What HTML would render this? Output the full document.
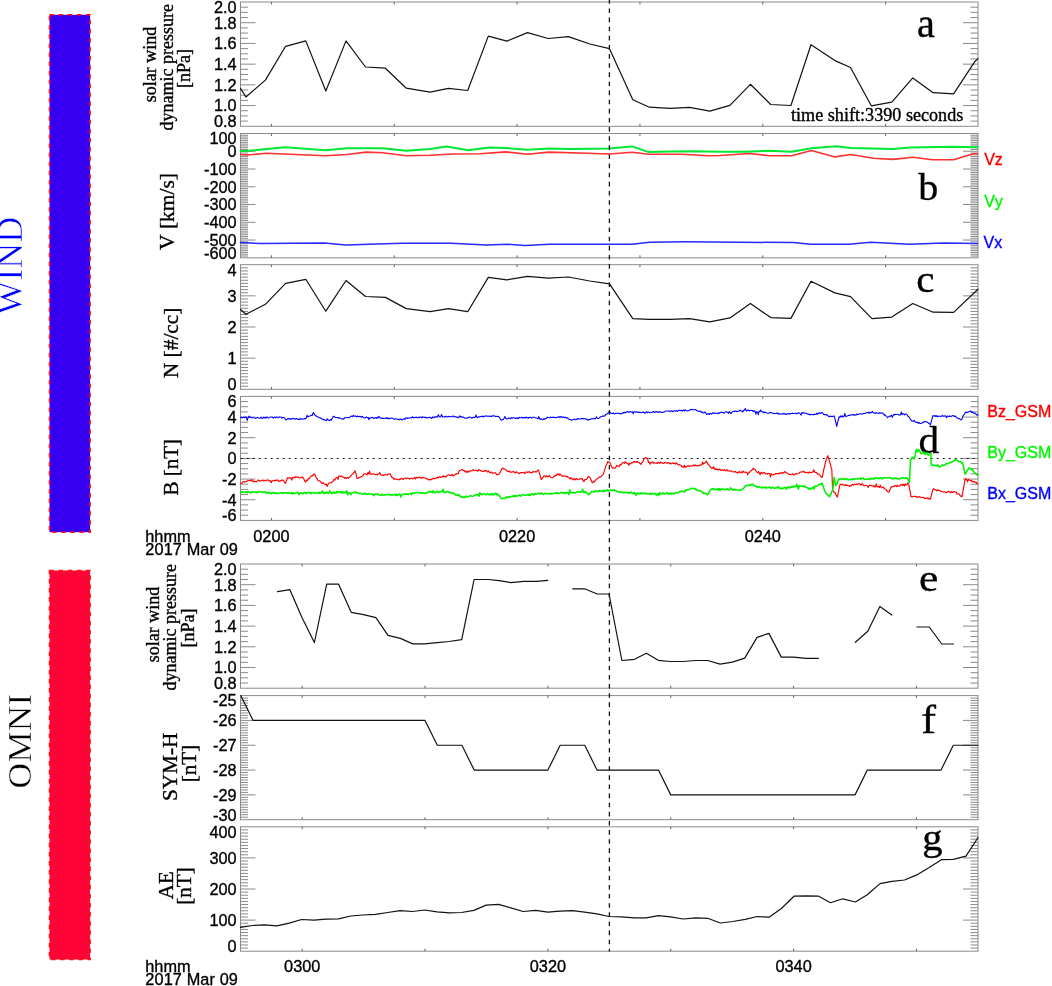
<!DOCTYPE html><html><head><meta charset="utf-8"><style>html,body{margin:0;padding:0;background:#fff;overflow:hidden;}svg{display:block;}text{font-kerning:none;}</style></head><body>
<svg width="1052" height="986" viewBox="0 0 1052 986">
<rect width="1052" height="986" fill="#fff"/>
<rect x="49.5" y="14.8" width="40.6" height="517.4" fill="#3700f0" stroke="#ff1010" stroke-width="1.6" stroke-dasharray="4.5 4.6"/>
<rect x="49.5" y="570.5" width="40.6" height="389" fill="#ff0436" stroke="#ff1010" stroke-width="1.6" stroke-dasharray="4.5 4.6"/>
<text transform="translate(21.9,265.8) rotate(-90)" text-anchor="middle" font-family="'Liberation Serif', 'Times New Roman', serif" font-size="36" fill="#0000ff" stroke="#fff" stroke-width="0.6">WIND</text>
<text transform="translate(31.4,741.1) rotate(-90) scale(1.045,1)" text-anchor="middle" font-family="'Liberation Serif', 'Times New Roman', serif" font-size="34" fill="#000" stroke="#fff" stroke-width="0.45">OMNI</text>
<rect x="240.5" y="2" width="737.5" height="124.3" fill="none" stroke="#8a8a8a" stroke-width="1"/>
<path d="M240.5 121.12h7.5M978 121.12h-7.5M240.5 115.94h7.5M978 115.94h-7.5M240.5 110.76h7.5M978 110.76h-7.5M240.5 105.58h15M978 105.58h-15M240.5 100.4h7.5M978 100.4h-7.5M240.5 95.22h7.5M978 95.22h-7.5M240.5 90.05h7.5M978 90.05h-7.5M240.5 84.87h15M978 84.87h-15M240.5 79.69h7.5M978 79.69h-7.5M240.5 74.51h7.5M978 74.51h-7.5M240.5 69.33h7.5M978 69.33h-7.5M240.5 64.15h15M978 64.15h-15M240.5 58.97h7.5M978 58.97h-7.5M240.5 53.79h7.5M978 53.79h-7.5M240.5 48.61h7.5M978 48.61h-7.5M240.5 43.43h15M978 43.43h-15M240.5 38.25h7.5M978 38.25h-7.5M240.5 33.07h7.5M978 33.07h-7.5M240.5 27.9h7.5M978 27.9h-7.5M240.5 22.72h15M978 22.72h-15M240.5 17.54h7.5M978 17.54h-7.5M240.5 12.36h7.5M978 12.36h-7.5M240.5 7.18h7.5M978 7.18h-7.5" stroke="#8a8a8a" stroke-width="1" fill="none"/>
<path d="M271.4 2v2.5M271.4 126.3v-2.5M394.25 2v2.5M394.25 126.3v-2.5M517.1 2v2.5M517.1 126.3v-2.5M639.95 2v2.5M639.95 126.3v-2.5M762.8 2v2.5M762.8 126.3v-2.5M885.65 2v2.5M885.65 126.3v-2.5" stroke="#666" stroke-width="1" fill="none"/>
<text x="236.6" y="7" text-anchor="end" font-family="'Liberation Sans', Arial, sans-serif" font-size="16.3" dy="0.36em" stroke="#000" stroke-width="0.35">2.0</text>
<text x="236.6" y="22.72" text-anchor="end" font-family="'Liberation Sans', Arial, sans-serif" font-size="16.3" dy="0.36em" stroke="#000" stroke-width="0.35">1.8</text>
<text x="236.6" y="43.43" text-anchor="end" font-family="'Liberation Sans', Arial, sans-serif" font-size="16.3" dy="0.36em" stroke="#000" stroke-width="0.35">1.6</text>
<text x="236.6" y="64.15" text-anchor="end" font-family="'Liberation Sans', Arial, sans-serif" font-size="16.3" dy="0.36em" stroke="#000" stroke-width="0.35">1.4</text>
<text x="236.6" y="84.87" text-anchor="end" font-family="'Liberation Sans', Arial, sans-serif" font-size="16.3" dy="0.36em" stroke="#000" stroke-width="0.35">1.2</text>
<text x="236.6" y="105.58" text-anchor="end" font-family="'Liberation Sans', Arial, sans-serif" font-size="16.3" dy="0.36em" stroke="#000" stroke-width="0.35">1.0</text>
<text x="236.6" y="121.3" text-anchor="end" font-family="'Liberation Sans', Arial, sans-serif" font-size="16.3" dy="0.36em" stroke="#000" stroke-width="0.35">0.8</text>
<polyline points="240.5,88.4 245.9,97 265.4,80.1 285.6,46.3 305.8,40.9 325.8,91 346,40.9 365.5,67 385.4,68.2 406.3,88.2 430.1,92.2 448.4,88.4 467.7,90.5 488.3,36.1 506.9,41.1 527.5,32.6 548.2,38.5 568.4,36.6 589.8,44 609.5,48.7 632.8,99.8 649.4,107.2 670.1,108.4 689.6,107.4 709.8,111.2 729.9,105.3 750.4,84.3 770.7,104.5 790.9,105.5 811,44.7 834.9,60.6 850.5,67.5 871.3,105.8 891.8,102.1 912.8,77.9 933.1,92.7 953.6,93.9 974.6,61.8 978,58.6" fill="none" stroke="#111" stroke-width="1.2" stroke-linejoin="round" stroke-linecap="round"/>
<text transform="translate(916.88,36.6) scale(1.032,1)" font-family="'Liberation Serif', 'Times New Roman', serif" font-size="39" stroke="#000" stroke-width="0.35">a</text>
<text x="791" y="121.1" font-family="'Liberation Serif', 'Times New Roman', serif" font-size="18.15" stroke="#000" stroke-width="0.35">time shift:3390 seconds</text>
<rect x="240.5" y="133.5" width="737.5" height="124.3" fill="none" stroke="#8a8a8a" stroke-width="1"/>
<path d="M240.5 256.02h7.5M978 256.02h-7.5M240.5 254.25h7.5M978 254.25h-7.5M240.5 252.47h7.5M978 252.47h-7.5M240.5 250.7h7.5M978 250.7h-7.5M240.5 248.92h7.5M978 248.92h-7.5M240.5 247.15h7.5M978 247.15h-7.5M240.5 245.37h7.5M978 245.37h-7.5M240.5 243.59h7.5M978 243.59h-7.5M240.5 241.82h7.5M978 241.82h-7.5M240.5 240.04h15M978 240.04h-15M240.5 238.27h7.5M978 238.27h-7.5M240.5 236.49h7.5M978 236.49h-7.5M240.5 234.72h7.5M978 234.72h-7.5M240.5 232.94h7.5M978 232.94h-7.5M240.5 231.16h7.5M978 231.16h-7.5M240.5 229.39h7.5M978 229.39h-7.5M240.5 227.61h7.5M978 227.61h-7.5M240.5 225.84h7.5M978 225.84h-7.5M240.5 224.06h7.5M978 224.06h-7.5M240.5 222.29h15M978 222.29h-15M240.5 220.51h7.5M978 220.51h-7.5M240.5 218.73h7.5M978 218.73h-7.5M240.5 216.96h7.5M978 216.96h-7.5M240.5 215.18h7.5M978 215.18h-7.5M240.5 213.41h7.5M978 213.41h-7.5M240.5 211.63h7.5M978 211.63h-7.5M240.5 209.86h7.5M978 209.86h-7.5M240.5 208.08h7.5M978 208.08h-7.5M240.5 206.3h7.5M978 206.3h-7.5M240.5 204.53h15M978 204.53h-15M240.5 202.75h7.5M978 202.75h-7.5M240.5 200.98h7.5M978 200.98h-7.5M240.5 199.2h7.5M978 199.2h-7.5M240.5 197.43h7.5M978 197.43h-7.5M240.5 195.65h7.5M978 195.65h-7.5M240.5 193.87h7.5M978 193.87h-7.5M240.5 192.1h7.5M978 192.1h-7.5M240.5 190.32h7.5M978 190.32h-7.5M240.5 188.55h7.5M978 188.55h-7.5M240.5 186.77h15M978 186.77h-15M240.5 185h7.5M978 185h-7.5M240.5 183.22h7.5M978 183.22h-7.5M240.5 181.44h7.5M978 181.44h-7.5M240.5 179.67h7.5M978 179.67h-7.5M240.5 177.89h7.5M978 177.89h-7.5M240.5 176.12h7.5M978 176.12h-7.5M240.5 174.34h7.5M978 174.34h-7.5M240.5 172.57h7.5M978 172.57h-7.5M240.5 170.79h7.5M978 170.79h-7.5M240.5 169.01h15M978 169.01h-15M240.5 167.24h7.5M978 167.24h-7.5M240.5 165.46h7.5M978 165.46h-7.5M240.5 163.69h7.5M978 163.69h-7.5M240.5 161.91h7.5M978 161.91h-7.5M240.5 160.14h7.5M978 160.14h-7.5M240.5 158.36h7.5M978 158.36h-7.5M240.5 156.58h7.5M978 156.58h-7.5M240.5 154.81h7.5M978 154.81h-7.5M240.5 153.03h7.5M978 153.03h-7.5M240.5 151.26h15M978 151.26h-15M240.5 149.48h7.5M978 149.48h-7.5M240.5 147.71h7.5M978 147.71h-7.5M240.5 145.93h7.5M978 145.93h-7.5M240.5 144.15h7.5M978 144.15h-7.5M240.5 142.38h7.5M978 142.38h-7.5M240.5 140.6h7.5M978 140.6h-7.5M240.5 138.83h7.5M978 138.83h-7.5M240.5 137.05h7.5M978 137.05h-7.5M240.5 135.28h7.5M978 135.28h-7.5" stroke="#8a8a8a" stroke-width="1" fill="none"/>
<path d="M271.4 133.5v2.5M271.4 257.8v-2.5M394.25 133.5v2.5M394.25 257.8v-2.5M517.1 133.5v2.5M517.1 257.8v-2.5M639.95 133.5v2.5M639.95 257.8v-2.5M762.8 133.5v2.5M762.8 257.8v-2.5M885.65 133.5v2.5M885.65 257.8v-2.5" stroke="#666" stroke-width="1" fill="none"/>
<text x="236.6" y="138.5" text-anchor="end" font-family="'Liberation Sans', Arial, sans-serif" font-size="16.3" dy="0.36em" stroke="#000" stroke-width="0.35">100</text>
<text x="236.6" y="151.26" text-anchor="end" font-family="'Liberation Sans', Arial, sans-serif" font-size="16.3" dy="0.36em" stroke="#000" stroke-width="0.35">0</text>
<text x="236.6" y="169.01" text-anchor="end" font-family="'Liberation Sans', Arial, sans-serif" font-size="16.3" dy="0.36em" stroke="#000" stroke-width="0.35">-100</text>
<text x="236.6" y="186.77" text-anchor="end" font-family="'Liberation Sans', Arial, sans-serif" font-size="16.3" dy="0.36em" stroke="#000" stroke-width="0.35">-200</text>
<text x="236.6" y="204.53" text-anchor="end" font-family="'Liberation Sans', Arial, sans-serif" font-size="16.3" dy="0.36em" stroke="#000" stroke-width="0.35">-300</text>
<text x="236.6" y="222.29" text-anchor="end" font-family="'Liberation Sans', Arial, sans-serif" font-size="16.3" dy="0.36em" stroke="#000" stroke-width="0.35">-400</text>
<text x="236.6" y="240.04" text-anchor="end" font-family="'Liberation Sans', Arial, sans-serif" font-size="16.3" dy="0.36em" stroke="#000" stroke-width="0.35">-500</text>
<text x="236.6" y="252.8" text-anchor="end" font-family="'Liberation Sans', Arial, sans-serif" font-size="16.3" dy="0.36em" stroke="#000" stroke-width="0.35">-600</text>
<polyline points="240.5,150.9 247.1,150.9 285.2,147.3 325.5,150.2 347,148.3 382.6,148.3 406.3,150.7 430,149 446.7,146.6 468.1,150.2 489.5,147.6 506.1,148 527.5,149.7 548.9,148.5 570.3,149 608.3,148.5 632.1,146.4 648.7,152.1 670.1,151.6 693.9,151.2 720,151.7 744.7,151.7 769.4,150.8 791.7,151.7 811.4,148.3 836.2,146.3 851,148 893,149 910.3,147.5 952.3,146.8 977.5,147.3" fill="none" stroke="#00e832" stroke-width="2.0" stroke-linejoin="round" stroke-linecap="round"/>
<polyline points="240.5,154.5 247,155 266.1,153.3 325.5,155.7 347,154.5 366,152.1 382.6,152.8 406.3,155.7 430,155.2 453.9,154 480,153.8 506.1,151.9 527.5,154.2 548.9,152.1 587,153.3 609.5,154 632.1,152.3 648.7,154.2 682,154.2 708.1,155.7 720,155.5 749.7,153.5 769.4,155.7 791.7,155.7 811.4,150.5 834.9,156.9 851,154.5 873.2,158.2 893,159.4 912.8,157.2 932.5,159.7 953.6,159.7 973.3,153.7 977.5,153.7" fill="none" stroke="#ff3030" stroke-width="1.6" stroke-linejoin="round" stroke-linecap="round"/>
<polyline points="240.5,242.6 261,243.6 324.4,242.9 345.5,245 401.8,243.3 451,243.3 486.2,245 507.3,244.3 525,245.4 549.5,244.3 632.2,244.3 649.4,242.2 686,241.8 793.4,242.6 810.6,244.3 849.2,244.3 870.7,242.2 909.4,244.3 943.8,243 977.5,243.5" fill="none" stroke="#2828ff" stroke-width="1.5" stroke-linejoin="round" stroke-linecap="round"/>
<text transform="translate(918.3,200.3) scale(1.046,1)" font-family="'Liberation Serif', 'Times New Roman', serif" font-size="38.3" stroke="#000" stroke-width="0.35">b</text>
<text x="984.2" y="164.8" font-family="'Liberation Sans', Arial, sans-serif" font-size="16" fill="#ff0000" stroke="#ff0000" stroke-width="0.35">Vz</text>
<text x="984.2" y="206.6" font-family="'Liberation Sans', Arial, sans-serif" font-size="16" fill="#00f800" stroke="#00f800" stroke-width="0.35">Vy</text>
<text x="983.5" y="247.6" font-family="'Liberation Sans', Arial, sans-serif" font-size="16" fill="#0000ff" stroke="#0000ff" stroke-width="0.35">Vx</text>
<rect x="240.5" y="264.7" width="737.5" height="124.6" fill="none" stroke="#8a8a8a" stroke-width="1"/>
<path d="M240.5 386.19h7.5M978 386.19h-7.5M240.5 383.07h7.5M978 383.07h-7.5M240.5 379.95h7.5M978 379.95h-7.5M240.5 376.84h7.5M978 376.84h-7.5M240.5 373.73h7.5M978 373.73h-7.5M240.5 370.61h7.5M978 370.61h-7.5M240.5 367.5h7.5M978 367.5h-7.5M240.5 364.38h7.5M978 364.38h-7.5M240.5 361.26h7.5M978 361.26h-7.5M240.5 358.15h15M978 358.15h-15M240.5 355.04h7.5M978 355.04h-7.5M240.5 351.92h7.5M978 351.92h-7.5M240.5 348.81h7.5M978 348.81h-7.5M240.5 345.69h7.5M978 345.69h-7.5M240.5 342.57h7.5M978 342.57h-7.5M240.5 339.46h7.5M978 339.46h-7.5M240.5 336.35h7.5M978 336.35h-7.5M240.5 333.23h7.5M978 333.23h-7.5M240.5 330.12h7.5M978 330.12h-7.5M240.5 327h15M978 327h-15M240.5 323.88h7.5M978 323.88h-7.5M240.5 320.77h7.5M978 320.77h-7.5M240.5 317.65h7.5M978 317.65h-7.5M240.5 314.54h7.5M978 314.54h-7.5M240.5 311.43h7.5M978 311.43h-7.5M240.5 308.31h7.5M978 308.31h-7.5M240.5 305.19h7.5M978 305.19h-7.5M240.5 302.08h7.5M978 302.08h-7.5M240.5 298.96h7.5M978 298.96h-7.5M240.5 295.85h15M978 295.85h-15M240.5 292.74h7.5M978 292.74h-7.5M240.5 289.62h7.5M978 289.62h-7.5M240.5 286.5h7.5M978 286.5h-7.5M240.5 283.39h7.5M978 283.39h-7.5M240.5 280.27h7.5M978 280.27h-7.5M240.5 277.16h7.5M978 277.16h-7.5M240.5 274.04h7.5M978 274.04h-7.5M240.5 270.93h7.5M978 270.93h-7.5M240.5 267.81h7.5M978 267.81h-7.5" stroke="#8a8a8a" stroke-width="1" fill="none"/>
<path d="M271.4 264.7v2.5M271.4 389.3v-2.5M394.25 264.7v2.5M394.25 389.3v-2.5M517.1 264.7v2.5M517.1 389.3v-2.5M639.95 264.7v2.5M639.95 389.3v-2.5M762.8 264.7v2.5M762.8 389.3v-2.5M885.65 264.7v2.5M885.65 389.3v-2.5" stroke="#666" stroke-width="1" fill="none"/>
<text x="236.6" y="269.7" text-anchor="end" font-family="'Liberation Sans', Arial, sans-serif" font-size="16.3" dy="0.36em" stroke="#000" stroke-width="0.35">4</text>
<text x="236.6" y="295.85" text-anchor="end" font-family="'Liberation Sans', Arial, sans-serif" font-size="16.3" dy="0.36em" stroke="#000" stroke-width="0.35">3</text>
<text x="236.6" y="327" text-anchor="end" font-family="'Liberation Sans', Arial, sans-serif" font-size="16.3" dy="0.36em" stroke="#000" stroke-width="0.35">2</text>
<text x="236.6" y="358.15" text-anchor="end" font-family="'Liberation Sans', Arial, sans-serif" font-size="16.3" dy="0.36em" stroke="#000" stroke-width="0.35">1</text>
<text x="236.6" y="384.3" text-anchor="end" font-family="'Liberation Sans', Arial, sans-serif" font-size="16.3" dy="0.36em" stroke="#000" stroke-width="0.35">0</text>
<polyline points="240.5,309.5 245.9,314.3 265.4,304.3 285.6,283.4 305.8,279.3 325.8,311.2 346,280.5 365.5,296.5 385.4,297.4 406.3,308.6 430.1,311.7 448.4,308.6 467.7,311.7 488.3,277.4 506.9,279.8 527.5,276.3 548.2,278.2 568.4,277 589.8,281 609.5,283.9 632.8,318.6 649.4,319.3 670.1,319.3 689.6,318.6 709.8,321.9 729.9,317.9 750.4,303.5 770.7,317.6 790.9,318.4 811,281.3 834.9,292.9 850.5,296.6 872,318.6 891.8,317.1 912.8,303.5 933.1,312.2 953.6,312.4 978,289.2" fill="none" stroke="#111" stroke-width="1.2" stroke-linejoin="round" stroke-linecap="round"/>
<text transform="translate(916.15,291.8) scale(1.074,1)" font-family="'Liberation Serif', 'Times New Roman', serif" font-size="38" stroke="#000" stroke-width="0.35">c</text>
<rect x="240.5" y="396.4" width="737.5" height="124" fill="none" stroke="#8a8a8a" stroke-width="1"/>
<path d="M240.5 515.23h7.5M978 515.23h-7.5M240.5 510.07h7.5M978 510.07h-7.5M240.5 504.9h7.5M978 504.9h-7.5M240.5 499.73h15M978 499.73h-15M240.5 494.57h7.5M978 494.57h-7.5M240.5 489.4h7.5M978 489.4h-7.5M240.5 484.23h7.5M978 484.23h-7.5M240.5 479.07h15M978 479.07h-15M240.5 473.9h7.5M978 473.9h-7.5M240.5 468.73h7.5M978 468.73h-7.5M240.5 463.57h7.5M978 463.57h-7.5M240.5 458.4h15M978 458.4h-15M240.5 453.23h7.5M978 453.23h-7.5M240.5 448.07h7.5M978 448.07h-7.5M240.5 442.9h7.5M978 442.9h-7.5M240.5 437.73h15M978 437.73h-15M240.5 432.57h7.5M978 432.57h-7.5M240.5 427.4h7.5M978 427.4h-7.5M240.5 422.23h7.5M978 422.23h-7.5M240.5 417.07h15M978 417.07h-15M240.5 411.9h7.5M978 411.9h-7.5M240.5 406.73h7.5M978 406.73h-7.5M240.5 401.57h7.5M978 401.57h-7.5" stroke="#8a8a8a" stroke-width="1" fill="none"/>
<path d="M271.4 396.4v2.5M271.4 520.4v-2.5M394.25 396.4v2.5M394.25 520.4v-2.5M517.1 396.4v2.5M517.1 520.4v-2.5M639.95 396.4v2.5M639.95 520.4v-2.5M762.8 396.4v2.5M762.8 520.4v-2.5M885.65 396.4v2.5M885.65 520.4v-2.5" stroke="#666" stroke-width="1" fill="none"/>
<text x="236.6" y="401.4" text-anchor="end" font-family="'Liberation Sans', Arial, sans-serif" font-size="16.3" dy="0.36em" stroke="#000" stroke-width="0.35">6</text>
<text x="236.6" y="417.07" text-anchor="end" font-family="'Liberation Sans', Arial, sans-serif" font-size="16.3" dy="0.36em" stroke="#000" stroke-width="0.35">4</text>
<text x="236.6" y="437.73" text-anchor="end" font-family="'Liberation Sans', Arial, sans-serif" font-size="16.3" dy="0.36em" stroke="#000" stroke-width="0.35">2</text>
<text x="236.6" y="458.4" text-anchor="end" font-family="'Liberation Sans', Arial, sans-serif" font-size="16.3" dy="0.36em" stroke="#000" stroke-width="0.35">0</text>
<text x="236.6" y="479.07" text-anchor="end" font-family="'Liberation Sans', Arial, sans-serif" font-size="16.3" dy="0.36em" stroke="#000" stroke-width="0.35">-2</text>
<text x="236.6" y="499.73" text-anchor="end" font-family="'Liberation Sans', Arial, sans-serif" font-size="16.3" dy="0.36em" stroke="#000" stroke-width="0.35">-4</text>
<text x="236.6" y="515.4" text-anchor="end" font-family="'Liberation Sans', Arial, sans-serif" font-size="16.3" dy="0.36em" stroke="#000" stroke-width="0.35">-6</text>
<line x1="240.7" y1="458.5" x2="978" y2="458.5" stroke="#111" stroke-width="1.2" stroke-dasharray="2 4"/>
<text transform="translate(918.41,452.8) scale(1.077,1)" font-family="'Liberation Serif', 'Times New Roman', serif" font-size="38.2" stroke="#000" stroke-width="0.35">d</text>
<polyline points="240.5,417.4 241.34,417.36 242.18,418.06 243.02,417.5 243.85,417.08 244.69,417.74 245.53,417.02 246.37,417.04 247.21,420.36 248.05,417.89 248.88,416.14 249.72,417.3 250.56,417.11 251.4,417.8 252.21,417.71 253.02,417.81 253.82,417.77 254.63,417.7 255.44,418.45 256.25,418.22 257.05,417.47 257.86,417.42 258.67,418.08 259.48,418.19 260.28,418.33 261.09,416.98 261.9,418.24 262.7,418.33 263.51,417.05 264.32,418.03 265.13,417.05 265.94,418.27 266.74,417.08 267.55,417.04 268.36,418.01 269.17,417.66 269.97,417.14 270.78,417.04 271.59,417.01 272.39,417.14 273.2,418.19 274.01,417.25 274.82,417.1 275.62,418 276.43,416.93 277.24,417.08 278.05,417.85 278.86,417.17 279.66,416.88 280.47,417.08 281.28,417.25 282.08,418.06 282.89,417.51 283.7,417.4 284.65,418.11 285.6,419.7 286.55,419.82 287.5,418.8 288.34,418.48 289.19,419.19 290.03,418.46 290.88,419.45 291.72,418.83 292.57,418.32 293.41,418.63 294.26,418.68 295.1,419.19 295.94,418.62 296.79,418.5 297.63,419.22 298.48,419.32 299.32,419.77 300.17,418.54 301.01,419.17 301.86,418.82 302.7,419.3 303.56,419.06 304.43,418.42 305.29,418.94 306.15,418.19 307.02,415.36 307.88,417.03 308.75,416.23 309.61,415.94 310.47,415.93 311.34,415.25 312.2,415.5 313.35,412.57 314.5,414.4 315.38,415.61 316.25,415.91 317.12,416.79 318,416.9 318.83,417.68 319.67,417.76 320.5,417.87 321.33,418.56 322.17,418.98 323,419.7 323.83,419.39 324.67,420.04 325.5,420.3 326.33,420.75 327.16,418.87 327.99,419.84 328.81,420.18 329.64,420.75 330.47,419.44 331.3,420.1 332.25,418.55 333.2,416.5 334.06,416.25 334.93,417.14 335.79,417.68 336.65,417.57 337.52,417.45 338.38,418.33 339.25,417.8 340.11,417.92 340.97,418.38 341.84,419.08 342.7,418.8 343.65,419.18 344.6,417.84 345.55,417.74 346.5,417.8 347.34,417.51 348.19,417.46 349.03,417.77 349.88,417.07 350.72,416.31 351.57,416.16 352.41,416.73 353.26,415.27 354.1,416.3 354.93,415.93 355.75,416.1 356.58,416.91 357.4,416.02 358.23,416.68 359.06,416.51 359.88,416.33 360.71,416.48 361.53,417.24 362.36,416.3 363.19,417.41 364.01,417.71 364.84,417.84 365.67,417.7 366.49,416.89 367.32,417.89 368.14,417.34 368.97,419.71 369.8,417.75 370.62,417.92 371.45,417.87 372.27,417.33 373.1,417.8 373.93,418.49 374.75,417.89 375.58,417.6 376.4,418.37 377.23,417.3 378.06,417.97 378.88,416.26 379.71,417.29 380.53,418.22 381.36,417.93 382.19,418.55 383.01,418.26 383.84,418.56 384.67,418.31 385.49,417.98 386.32,418.54 387.14,417.63 387.97,418.68 388.8,418.37 389.62,418.67 390.45,417.89 391.27,418.25 392.1,418.2 392.96,418.33 393.83,418.97 394.69,419.27 395.55,418.61 396.42,418.97 397.28,419.29 398.15,419.21 399.01,419.93 399.87,419.1 400.74,419.04 401.6,419.7 402.46,419.93 403.33,419.25 404.19,418.64 405.05,419.46 405.92,417.81 406.78,417.76 407.65,418.55 408.51,418.03 409.37,417.93 410.24,417.78 411.1,417.4 411.93,417.68 412.75,416.73 413.58,417.86 414.4,417.45 415.23,417.45 416.06,417 416.88,417.52 417.71,417.98 418.53,417.19 419.36,417.54 420.19,416.97 421.01,416.97 421.84,417.94 422.67,416.82 423.49,417.31 424.32,417.46 425.14,416.98 425.97,417.82 426.8,417.5 427.62,417.85 428.45,417.69 429.27,417.18 430.1,417.4 430.92,417.82 431.74,418.5 432.57,416.81 433.39,417.68 434.21,417.76 435.03,416.5 435.85,417.01 436.67,416.77 437.5,416.99 438.32,414.8 439.14,416.43 439.96,417.16 440.78,416.35 441.6,414.55 442.43,416.97 443.25,416.82 444.07,416.73 444.89,417.21 445.71,416.15 446.53,416.79 447.36,416.84 448.18,416.9 449,416.3 449.83,416.64 450.65,416.8 451.48,416.81 452.3,416.34 453.13,415.94 453.96,416.89 454.78,416.38 455.61,417.05 456.43,417.11 457.26,417 458.09,417.72 458.91,417.36 459.74,415.71 460.57,416.87 461.39,416.65 462.22,417.17 463.04,417.06 463.87,417.54 464.7,418.19 465.52,418.3 466.35,418.1 467.17,417.87 468,417.8 468.81,417.11 469.61,417.21 470.42,417.16 471.22,417.73 472.03,418.14 472.84,417.49 473.64,417.21 474.45,417.56 475.25,416.98 476.06,415.06 476.87,417.35 477.67,417.37 478.48,416.79 479.28,417.11 480.09,416.68 480.9,416.49 481.7,416.47 482.51,416.13 483.32,417.14 484.12,416.15 484.93,416.23 485.73,415.9 486.54,415.94 487.35,416.22 488.15,416.17 488.96,416.19 489.76,416.44 490.57,416 491.38,416.57 492.18,415.78 492.99,415.99 493.79,415.69 494.6,415.9 495.55,416.49 496.5,416.25 497.45,416.48 498.4,416.3 499.55,417.69 500.7,419.7 501.53,420.2 502.35,419.64 503.18,419.55 504.01,418.47 504.84,416.54 505.66,418.28 506.49,418.99 507.32,418.79 508.15,418.44 508.97,418.12 509.8,418.2 510.6,418.65 511.4,417.62 512.2,418.3 513,417.7 513.8,417.73 514.6,417.86 515.4,418.7 516.2,418.06 517,418.56 517.8,417.76 518.6,418.44 519.4,417.31 520.2,417.84 521,417.56 521.8,417.22 522.6,418.01 523.4,417.49 524.2,418.01 525,417.21 525.8,418 526.6,417.12 527.4,417.73 528.2,418.22 529,417.49 529.8,417.28 530.6,417.39 531.4,418.06 532.2,417.28 533,417.26 533.8,417.27 534.6,417.4 535.44,417.74 536.29,417.97 537.13,418.25 537.98,418.78 538.82,416.56 539.67,419.03 540.51,419.4 541.36,418.83 542.2,419.7 543.01,419.77 543.83,418.46 544.64,419.27 545.46,418.57 546.27,418.4 547.09,417.37 547.9,417.4 548.7,417.75 549.5,417.72 550.3,417.09 551.1,417.54 551.9,417.32 552.7,417.53 553.5,417.09 554.3,417.42 555.1,417.59 555.9,417.68 556.7,417.31 557.5,417.38 558.3,416.95 559.1,416.54 559.9,417.69 560.7,416.51 561.5,416.85 562.3,417.58 563.1,416.9 563.94,416.94 564.79,417.73 565.63,417.38 566.48,418.09 567.32,417.73 568.17,418.57 569.01,419.22 569.86,419.4 570.7,419.7 571.51,420.15 572.33,420.06 573.14,419.56 573.96,419.34 574.77,419.14 575.59,419.7 576.4,419.33 577.21,419.35 578.03,418.34 578.84,419.05 579.66,418.93 580.47,418.82 581.29,418.9 582.1,418.2 582.91,418.94 583.73,418.56 584.54,418.73 585.36,418.94 586.17,418.77 586.99,419.92 587.8,419.7 588.66,419.9 589.53,419.45 590.39,419.39 591.25,418.74 592.12,418.53 592.98,418.67 593.85,418.78 594.71,418.88 595.57,418.82 596.44,416.72 597.3,418.2 598.14,418.53 598.99,418.15 599.83,417.49 600.68,416.7 601.52,416.66 602.37,416.07 603.21,416.37 604.06,415.96 604.9,415.9 605.85,414.4 606.8,413.95 607.75,413.51 608.7,412.1 609.65,411.79 610.6,413.14 611.55,413.31 612.5,413.6 613.34,412.89 614.19,413.97 615.03,413.7 615.88,413.34 616.72,413.21 617.57,413.32 618.41,413.1 619.26,413.75 620.1,413.4 620.93,413.88 621.75,413.43 622.58,413.43 623.4,412.33 624.23,412.94 625.05,412.1 625.88,412.88 626.7,411.69 627.52,411.64 628.35,411.85 629.17,412.43 630,411.7 630.82,411.79 631.64,412.22 632.45,411.76 633.27,413.79 634.09,411.81 634.91,411.78 635.73,412.25 636.55,411.85 637.36,412.27 638.18,412.01 639,412.5 639.83,412.19 640.65,412.76 641.48,412.5 642.3,412.06 643.13,412.43 643.96,411.97 644.78,413.08 645.61,412.97 646.43,411.68 647.26,412.71 648.09,412.28 648.91,412.06 649.74,412.8 650.57,412.79 651.39,412.56 652.22,412.32 653.04,411.59 653.87,411.72 654.7,412.73 655.52,411.66 656.35,411.44 657.17,411.93 658,412.1 658.8,411.86 659.6,412.13 660.41,411.88 661.21,412.29 662.01,412.54 662.81,412.15 663.62,412.31 664.42,411.89 665.22,411.16 666.02,410.94 666.82,411 667.63,411.26 668.43,411.08 669.23,410.76 670.03,411.64 670.84,411.15 671.64,410.67 672.44,411.74 673.24,411.22 674.04,410.77 674.85,410.98 675.65,411.24 676.45,410.39 677.25,411.49 678.06,410.85 678.86,410.11 679.66,410.43 680.46,410.58 681.26,410.37 682.07,411.1 682.87,410.16 683.67,410.1 684.47,411.07 685.28,409.81 686.08,410.37 686.88,410.88 687.68,410.91 688.48,410.68 689.29,410.17 690.09,409.59 690.89,409.89 691.69,409.35 692.5,409.38 693.3,409.96 694.1,409.8 694.94,409.78 695.77,409.66 696.61,410.5 697.45,410.89 698.29,411.38 699.12,411.1 699.96,411.38 700.8,411.4 701.64,412.55 702.48,412.01 703.31,412.96 704.15,412.69 704.99,411.97 705.83,413.11 706.66,414.4 707.5,414 708.31,413.66 709.11,414.51 709.92,413.68 710.72,413.49 711.53,414.04 712.34,413.12 713.14,412.98 713.95,413.12 714.75,413.37 715.56,412.99 716.37,413.27 717.17,413.19 717.98,413.65 718.78,412.64 719.59,413.19 720.4,412.29 721.2,412.22 722.01,412.06 722.82,412.73 723.62,412.7 724.43,413.22 725.23,412.02 726.04,411.74 726.85,411.84 727.65,412.43 728.46,413.4 729.26,411.51 730.07,412.62 730.88,413.71 731.68,412.39 732.49,411.87 733.29,411.31 734.1,411.7 734.96,411.09 735.83,411.06 736.69,411.67 737.55,411.56 738.42,411 739.28,410.99 740.15,410.09 741.01,410.91 741.87,410.99 742.74,412.06 743.6,410.2 744.41,410.29 745.23,408.5 746.04,410.55 746.86,410.94 747.67,410.12 748.49,410.06 749.3,410.95 750.11,410.53 750.93,410.37 751.74,410.57 752.56,410.64 753.37,411.66 754.19,410.66 755,411.17 755.81,414.23 756.63,411.67 757.44,411.95 758.26,414.71 759.07,411.27 759.89,411.57 760.7,409.9 761.51,411.49 762.33,411.99 763.14,411.81 763.96,412.9 764.77,411.96 765.59,412.56 766.4,412.85 767.21,413.18 768.03,413.28 768.84,413.27 769.66,412.45 770.47,412.3 771.29,412.66 772.1,413.1 772.96,413.61 773.83,413.12 774.69,413.71 775.55,413.41 776.42,413.06 777.28,413.65 778.15,413.04 779.01,414.38 779.87,413.86 780.74,413.94 781.6,414 782.41,414.18 783.23,413.38 784.04,414.22 784.86,413.36 785.67,414.31 786.49,414.5 787.3,413.7 788.11,413.58 788.93,414.24 789.74,413.4 790.56,413.63 791.37,413.63 792.19,413.17 793,413.52 793.81,413.54 794.63,413.23 795.44,413.28 796.26,413.89 797.07,413.32 797.89,413.38 798.7,412.77 799.51,413.45 800.33,413.75 801.14,415.2 801.96,412.59 802.77,413.25 803.59,412.6 804.4,413.1 805.21,413.2 806.03,413.31 806.84,413.38 807.66,414.17 808.47,414.16 809.29,414.34 810.1,415 810.96,414.41 811.82,414.45 812.68,414.52 813.55,414.89 814.41,414.12 815.27,414.48 816.13,414.4 816.99,413.11 817.85,414.05 818.72,413.14 819.58,412.86 820.44,413.51 821.3,412.8 822.11,412.55 822.92,413.42 823.73,414.44 824.54,414.6 825.35,414.58 826.16,414.54 826.97,415.2 827.78,415.37 828.59,416.56 829.4,416.8 830.2,416.06 831,416.46 831.8,416.24 832.6,416.52 833.4,416.13 834.2,416 835.03,418.83 835.87,422.68 836.7,426.5 837.9,421.26 839.1,416.8 839.91,417.3 840.72,415.9 841.52,416.99 842.33,415.81 843.14,416.84 843.95,416.62 844.76,413.5 845.57,416.26 846.38,416.35 847.18,415.97 847.99,415.79 848.8,415.3 849.61,415.55 850.42,415.05 851.23,414.85 852.03,414.68 852.84,414.5 853.65,415.29 854.46,414.83 855.27,414.77 856.08,415.21 856.88,413.97 857.69,414.51 858.5,414.4 859.31,414.09 860.12,413.73 860.93,413.68 861.74,414.12 862.55,414.06 863.36,413.33 864.17,413.45 864.98,413.54 865.79,412.79 866.6,412.8 867.4,412.44 868.21,412.15 869.01,413.46 869.82,412.35 870.62,412.76 871.43,412.75 872.24,411.28 873.04,412.49 873.85,412.99 874.65,412.82 875.46,413.43 876.26,412.52 877.07,412.91 877.87,413.22 878.68,413.34 879.48,412.54 880.29,413.3 881.09,412.77 881.9,413 882.7,413.1 883.52,413.93 884.33,415.13 885.15,414.86 885.97,415.78 886.78,416.53 887.6,417.6 888.51,416.89 889.43,416.27 890.34,416.31 891.26,415.08 892.17,417.28 893.09,415.55 894,414.4 894.81,414.91 895.62,414.28 896.44,414.25 897.25,414.47 898.06,414.57 898.88,415.01 899.69,415.09 900.5,414.87 901.31,412.14 902.12,414.64 902.94,413.73 903.75,413.79 904.56,414.94 905.38,414.21 906.19,414.07 907,414.4 907.96,416.29 908.92,416.73 909.88,418.53 910.84,419.98 911.8,420.9 912.61,421.11 913.42,421.25 914.23,420.45 915.04,421.7 915.85,422.32 916.66,422.15 917.47,422.38 918.28,423.39 919.09,422.49 919.9,423.3 920.71,423.44 921.52,423.24 922.34,422.95 923.15,421.95 923.96,422.09 924.77,421.41 925.59,421.76 926.4,421.7 927.2,422.39 928,422.57 928.8,423.37 929.6,423.71 930.4,424.9 931.6,420.35 932.8,416 933.61,415.61 934.42,416.29 935.23,415.68 936.04,416.63 936.86,415.56 937.67,416.69 938.48,416.19 939.29,416.2 940.1,416.16 940.91,416.5 941.72,416.01 942.53,415.46 943.34,416.27 944.16,416.23 944.97,415.84 945.78,416.14 946.59,417.69 947.4,416 948.2,416.13 949,416.6 949.8,415.96 950.6,416.33 951.4,416.33 952.2,415.86 953,415.48 953.8,415.99 954.6,416.48 955.4,416 956.21,417.18 957.03,417.56 957.84,418.41 958.66,418.8 959.47,418.51 960.29,419.36 961.1,420 961.9,419.07 962.7,416.81 963.5,415.08 964.3,414.64 965.1,412.8 965.92,412.17 966.73,412.76 967.55,412.07 968.37,412.15 969.18,411.28 970,411.2 970.8,410.95 971.6,412.51 972.4,411.86 973.2,412.64 974,413.36 974.8,413 975.6,413.59 976.4,414.93 977.2,414.38 978,415.2" fill="none" stroke="#0000ff" stroke-width="1.1" stroke-linejoin="round" stroke-linecap="round"/>
<polyline points="240.5,483.4 241.37,483.04 242.23,483.07 243.1,481.57 243.97,481.73 244.83,482.16 245.7,481.5 246.53,481.55 247.36,480.75 248.19,480.72 249.02,480.48 249.86,480.45 250.69,480.87 251.52,479.49 252.35,481.34 253.18,481.87 254.01,480.84 254.84,481.73 255.68,481.51 256.51,481.63 257.34,480.81 258.17,479.91 259,480.6 259.82,480.9 260.65,480.8 261.47,480.85 262.29,480.05 263.12,480.17 263.94,481.26 264.76,480.26 265.59,480.3 266.41,480.73 267.23,480.02 268.06,479.91 268.88,480.47 269.7,481.09 270.53,480.69 271.35,482.7 272.17,480.78 273,480.63 273.82,480.31 274.64,480.95 275.47,480.13 276.29,480.54 277.11,480.03 277.94,480.1 278.76,481.41 279.58,481.14 280.41,481.13 281.23,480.15 282.05,480.35 282.88,479.98 283.7,480.6 284.65,482.69 285.6,483.4 286.55,480.15 287.5,477.7 288.34,478.18 289.19,477.61 290.03,477.93 290.88,478 291.72,480.16 292.57,477.53 293.41,477.84 294.26,477.05 295.1,477.73 295.94,476.7 296.79,477.19 297.63,477.18 298.48,477.37 299.32,477.99 300.17,477.67 301.01,477.33 301.86,477.65 302.7,477.1 303.67,478.49 304.63,480.86 305.6,482.1 306.53,480.06 307.47,480.49 308.4,478.6 309.21,478.64 310.03,477.32 310.84,476.37 311.66,475.65 312.47,476.02 313.29,474.65 314.1,473.9 315.08,474.9 316.05,477.61 317.02,478.47 318,480.6 318.83,480.74 319.67,480.87 320.5,481.63 321.33,482.89 322.17,483.66 323,482.49 323.83,483.69 324.67,484.55 325.5,484.7 326.33,483.96 327.16,486.51 327.99,484.51 328.81,483.25 329.64,482.71 330.47,482.77 331.3,482.8 332.14,481.82 332.99,481.62 333.83,479.37 334.68,480.05 335.52,478.95 336.37,477.33 337.21,477.48 338.06,479.39 338.9,475.8 339.74,476.35 340.59,476.38 341.43,476.08 342.28,476.92 343.12,477.19 343.97,477.28 344.81,478.5 345.66,477.66 346.5,478.6 347.45,477.28 348.4,478.18 349.35,477.04 350.3,476.7 351.24,475.21 352.18,474.29 353.12,473.67 354.06,472.42 355,470.7 355.95,473.8 356.9,478.3 357.76,478.56 358.62,477.7 359.48,477.37 360.34,477.29 361.2,476.75 362.06,476.33 362.92,475.87 363.78,473.96 364.64,473.79 365.5,473.9 366.3,474.49 367.11,474.84 367.91,472.54 368.72,474.04 369.52,471.15 370.32,474.12 371.13,474.08 371.93,473.98 372.73,474.24 373.54,473.85 374.34,474.27 375.15,474.66 375.95,474.68 376.75,474.22 377.56,474.88 378.36,473.79 379.17,473.78 379.97,472.68 380.77,474.89 381.58,475.35 382.38,474.9 383.18,475.52 383.99,474.85 384.79,474.96 385.6,474.47 386.4,474.8 387.35,475.17 388.3,474.15 389.25,473.83 390.2,473.9 391.15,475.86 392.1,477.63 393.05,477.5 394,479.6 394.81,478.88 395.63,478.93 396.44,479.3 397.26,479.18 398.07,479.46 398.89,479.92 399.7,478.88 400.51,479.35 401.33,478.26 402.14,478.56 402.96,479.53 403.77,478.75 404.59,478.51 405.4,478.05 406.21,478.66 407.03,477.99 407.84,478.14 408.66,478.26 409.47,479.17 410.29,478.54 411.1,478.3 411.96,478.47 412.83,478.98 413.69,478.35 414.55,477.44 415.42,478.91 416.28,477.15 417.15,477.99 418.01,477.91 418.87,477.2 419.74,477.02 420.6,477.7 421.46,478.4 422.33,477.27 423.19,477.66 424.05,477.71 424.92,477.99 425.78,478.39 426.65,478.88 427.51,478.88 428.37,479.98 429.24,479.59 430.1,479.6 430.91,479.37 431.71,479.57 432.52,478.69 433.33,478.12 434.14,478.87 434.94,478.67 435.75,478.12 436.56,477.98 437.36,477.16 438.17,478.12 438.98,477.24 439.79,476.66 440.59,477.41 441.4,476.7 442.23,476.6 443.06,475.73 443.89,476.95 444.72,476.28 445.56,476.93 446.39,476.5 447.22,475.34 448.05,475.04 448.88,474.79 449.71,475.41 450.54,475.43 451.38,475.4 452.21,474.36 453.04,475.92 453.87,475.53 454.7,474.8 455.54,474.29 456.39,473.54 457.23,473.88 458.08,473.89 458.92,471.21 459.77,470.5 460.61,470.28 461.46,469.73 462.3,469.5 463.27,470.36 464.23,470.41 465.2,472 466,471.03 466.8,472.54 467.6,471.29 468.4,472 469.2,471.82 470,470.49 470.8,470.98 471.6,470.92 472.4,470.42 473.2,469.71 474,470.52 474.8,470.7 475.6,470.1 476.41,470.62 477.23,470.69 478.04,471.23 478.86,469.63 479.67,470.27 480.49,470.6 481.3,470.6 482.11,471.34 482.93,471.35 483.74,471.53 484.56,470.48 485.37,471.16 486.19,470.4 487,471 487.81,472.08 488.63,470.92 489.44,472.32 490.26,472.9 491.07,472.14 491.89,472.17 492.7,473.58 493.51,473.29 494.33,472.72 495.14,472.72 495.96,473.71 496.77,474.78 497.59,474.56 498.4,474.5 499.35,473.42 500.3,472.22 501.25,470.1 502.2,468.2 503.01,468.06 503.83,469.02 504.64,469.03 505.46,469.45 506.27,470.18 507.09,471.27 507.9,471.4 508.74,471.38 509.57,471.06 510.41,472.44 511.25,472.07 512.09,471.97 512.92,471.68 513.76,471.51 514.6,472.61 515.44,473 516.27,471.66 517.11,472.7 517.95,472.7 518.79,473.56 519.62,473.54 520.46,472.5 521.3,473 522.1,472.49 522.9,472.46 523.7,472.24 524.5,473.6 525.3,473.04 526.1,471.86 526.9,471.96 527.7,472.46 528.5,471.96 529.3,471.6 530.1,472.53 530.9,472.64 531.7,472.93 532.5,472.28 533.3,471.43 534.1,471.99 534.9,471.85 535.7,471.63 536.5,472 537.45,470.62 538.4,470.1 539.33,472.58 540.27,475.84 541.2,479.6 542.17,478.77 543.13,476.95 544.1,475.8 544.94,475.84 545.79,476.97 546.63,475.72 547.48,477 548.32,476.42 549.17,475.42 550.01,476.66 550.86,477.49 551.7,477.7 552.51,477.8 553.33,477.31 554.14,475.87 554.96,476.23 555.77,475.18 556.59,475.32 557.4,473.9 558.26,474.1 559.13,475.31 559.99,473.88 560.85,475.05 561.72,475.82 562.58,476.4 563.45,475.78 564.31,475.92 565.17,476.19 566.04,476.05 566.9,477.1 567.71,476.59 568.53,477.34 569.34,478.02 570.16,479.03 570.97,477.66 571.79,478.44 572.6,479.6 573.46,479.78 574.33,478.56 575.19,479.97 576.05,478.65 576.92,478.46 577.78,479.81 578.65,479.57 579.51,479.1 580.37,478.49 581.24,479.12 582.1,478.6 583.05,480.51 584,481.5 584.94,479.63 585.88,479.48 586.82,479.36 587.76,477.28 588.7,476.4 589.65,477.23 590.6,478.77 591.55,481.52 592.5,482.8 593.46,481.17 594.42,481.95 595.38,480.42 596.34,479.41 597.3,478.6 598.11,478.2 598.93,477.34 599.74,477.13 600.56,476.92 601.37,476.28 602.19,475.31 603,474.8 603.95,472.36 604.9,469.1 605.87,465.93 606.83,464.25 607.8,461.5 608.75,462.11 609.7,462.5 610.63,464.27 611.57,466.47 612.5,468.2 613.31,467.81 614.13,467.99 614.94,468.26 615.76,467.44 616.57,465.4 617.39,466.12 618.2,466.3 619.15,466.4 620.1,464.46 621.05,464.91 622,463.4 622.83,462.62 623.67,462.72 624.5,463.44 625.33,461.6 626.17,462.5 627,463.29 627.83,463.6 628.67,465.27 629.5,463.4 630.34,464 631.19,463.28 632.03,462.37 632.88,462.89 633.72,461.88 634.57,461.61 635.41,461.84 636.26,462.35 637.1,461.5 638.05,462.45 639,462.21 639.95,463.55 640.9,464.4 641.7,463.01 642.5,461.86 643.3,460.89 644.1,458.94 644.9,458.15 645.7,457.4 646.63,458.41 647.57,458.46 648.5,462.5 649.31,462.38 650.13,464.16 650.94,462.6 651.76,462.26 652.57,461.75 653.39,463.36 654.2,462.86 655.01,463.05 655.83,463.19 656.64,462.92 657.46,463.41 658.27,462.23 659.09,462.61 659.9,463.4 660.71,462.17 661.53,462.58 662.34,462.75 663.16,463.49 663.97,463.46 664.79,462.33 665.6,462.38 666.41,462.88 667.23,463.48 668.04,462.47 668.86,462.65 669.67,463.61 670.49,463.34 671.3,463.85 672.11,463.39 672.93,462.85 673.74,463.61 674.56,463.01 675.37,464.06 676.19,462.79 677,463.4 677.81,464.53 678.63,465.11 679.44,464.52 680.26,464.96 681.07,465.27 681.89,466.98 682.7,466.9 683.53,467.25 684.35,465.26 685.18,467.55 686,466.52 686.83,466.76 687.66,465.72 688.48,465.67 689.31,466.64 690.13,466.13 690.96,465.83 691.79,466.27 692.61,465.64 693.44,464.95 694.27,465.88 695.09,464.81 695.92,465.99 696.74,465.57 697.57,465.96 698.4,465.65 699.22,465.76 700.05,465.04 700.87,464.73 701.7,465 702.66,462.03 703.62,464.14 704.58,463.05 705.54,462.39 706.5,461.2 707.46,462.95 708.42,464.72 709.38,465.76 710.34,466.96 711.3,468.2 712.13,468.01 712.95,468.35 713.78,466.82 714.6,469.35 715.43,468.6 716.26,469.7 717.08,468.99 717.91,469.95 718.73,469.61 719.56,468.99 720.39,469.69 721.21,470.48 722.04,470.13 722.87,470.13 723.69,470.4 724.52,469.71 725.34,471 726.17,470.41 727,469.68 727.82,470.84 728.65,470.85 729.47,471.15 730.3,471 731.13,470.66 731.95,471.72 732.78,471.71 733.6,471.82 734.43,471.85 735.26,471.4 736.08,472.38 736.91,472.23 737.73,473.21 738.56,471.92 739.39,471.57 740.21,472.71 741.04,472.64 741.87,471.68 742.69,472.63 743.52,471.13 744.34,472.23 745.17,472.45 746,472.01 746.82,472.53 747.65,474.88 748.47,472.84 749.3,472.6 750.25,471.05 751.2,470.99 752.15,469.7 753.1,468.2 754.05,469.42 755,469.33 755.95,470.8 756.9,472 757.7,472.94 758.5,471.49 759.3,472.92 760.1,474.71 760.9,472.37 761.7,472.63 762.5,473.61 763.3,472.75 764.1,472.52 764.9,472.98 765.7,473.71 766.5,473.59 767.3,474.18 768.1,473.31 768.9,473.51 769.7,473.47 770.5,476.95 771.3,473.76 772.1,474.8 772.93,474.88 773.76,474.58 774.59,474.73 775.42,473.49 776.26,473.64 777.09,473.53 777.92,473.46 778.75,474.08 779.58,472.74 780.41,473.4 781.24,472.79 782.08,473.48 782.91,472.44 783.74,473.03 784.57,471.6 785.4,472 786.21,472.79 787.03,472.94 787.84,473.62 788.66,474.36 789.47,474.31 790.29,474.52 791.1,474.8 791.91,474.45 792.73,473.68 793.54,475.06 794.36,474.87 795.17,473.91 795.99,473.61 796.8,474.03 797.61,473.8 798.43,473.51 799.24,473.09 800.06,472.04 800.87,472.12 801.69,472 802.5,472 803.34,471.23 804.19,471.6 805.03,472.77 805.88,472.39 806.72,472.26 807.57,472.75 808.41,473.27 809.26,471.83 810.1,472.6 811.01,472.68 811.93,472.23 812.84,471.9 813.76,469.78 814.67,472.3 815.59,472.33 816.5,472.6 817.3,473.9 818.1,474.19 818.9,474.05 819.7,475 820.5,476.17 821.3,477.15 822.1,477.4 822.92,473.86 823.74,469.69 824.56,466.53 825.38,462.52 826.2,459.6 827.8,455.6 828.6,458.43 829.4,461.32 830.2,463.46 831,467 831.8,469.3 832.6,490.3 833.42,490.95 834.23,492.73 835.05,492.69 835.87,494.28 836.68,496.21 837.5,496.8 838.7,490.74 839.9,484.7 840.71,484.12 841.52,484.83 842.32,484.31 843.13,484.64 843.94,485.27 844.75,485.57 845.55,484.47 846.36,485.5 847.17,485.21 847.98,485.85 848.78,485.56 849.59,486.32 850.4,485.5 851.21,485.83 852.02,484.5 852.83,484.41 853.64,485.19 854.45,484.15 855.26,484.32 856.07,484.72 856.88,483.95 857.69,484.32 858.5,483.9 859.31,483.48 860.12,483.99 860.93,485.2 861.74,483.91 862.55,483.86 863.36,485.43 864.17,485.84 864.98,485.4 865.79,485.42 866.6,485.5 867.4,485.92 868.21,487.52 869.01,486.09 869.82,485.15 870.62,485.48 871.43,485.63 872.24,485.68 873.04,486.39 873.85,485.59 874.65,486.9 875.46,486.81 876.26,483.96 877.07,486.93 877.87,486.85 878.68,486.31 879.48,487.48 880.29,485.19 881.09,487.02 881.9,487.91 882.7,487.1 883.51,486.96 884.33,489.04 885.14,488.96 885.95,489.25 886.76,490.79 887.58,491.46 888.39,492.1 889.2,492 890.8,487.1 891.61,486.82 892.42,486.97 893.23,486.43 894.04,486.48 894.85,485.79 895.65,485.56 896.46,486.54 897.27,485.16 898.08,486.08 898.89,486.2 899.7,486.19 900.51,484.58 901.32,484.87 902.13,484.33 902.94,485.61 903.75,484.42 904.55,486.09 905.36,483.96 906.17,484.98 906.98,484.79 907.79,482.85 908.6,483.9 909.8,489.52 911,496.8 911.81,496.53 912.62,496.78 913.43,496.39 914.24,496.36 915.05,496.25 915.85,497.2 916.66,496.35 917.47,497.17 918.28,497.45 919.09,496.51 919.9,496.8 920.71,497.41 921.52,497.5 922.32,497.49 923.13,497.29 923.94,497.77 924.75,498.76 925.55,498.11 926.36,498.35 927.17,497.76 927.98,498.95 928.78,498.22 929.59,499.07 930.4,499.2 931.6,494.46 932.8,489.5 933.61,488.76 934.42,489.31 935.23,489.89 936.04,490.07 936.86,490.78 937.67,489.7 938.48,490.3 939.29,490.79 940.1,490.67 940.91,491.19 941.72,491.45 942.53,491.79 943.34,491.9 944.16,491.94 944.97,492 945.78,492.61 946.59,492.66 947.4,492 948.2,491.35 949,491.37 949.8,492.2 950.6,492.8 951.4,491.44 952.2,492.38 953,492.44 953.8,491.36 954.6,491.95 955.4,492 956.21,491.91 957.02,493.96 957.84,493.97 958.65,493.86 959.46,494.18 960.27,496.09 961.09,495.96 961.9,496.8 962.7,492.7 963.5,488.34 964.3,484.02 965.1,479 965.91,478.77 966.73,479.49 967.54,481.84 968.35,479.64 969.16,479.88 969.98,480.35 970.79,480.88 971.6,480.6 972.51,481.84 973.43,481.64 974.34,481.58 975.26,482.67 976.17,482.1 977.09,483.68 978,483.9" fill="none" stroke="#ff0000" stroke-width="1.15" stroke-linejoin="round" stroke-linecap="round"/>
<polyline points="240.5,492.3 241.3,491.9 242.11,492.57 242.91,491.76 243.72,491.68 244.52,492.61 245.33,492.27 246.13,491.88 246.93,492.74 247.74,491.41 248.54,491.6 249.35,492.65 250.15,492.67 250.96,492.85 251.76,491.73 252.57,492.08 253.37,492.19 254.17,491.86 254.98,491.77 255.78,492.56 256.59,492.82 257.39,492.11 258.2,491.43 259,492 259.83,491.97 260.65,491.65 261.48,491.8 262.3,492.43 263.13,491.74 263.96,491.97 264.78,491.97 265.61,491.84 266.43,493.31 267.26,493 268.09,491.99 268.91,493.27 269.74,493.07 270.57,492.77 271.39,493.6 272.22,492.57 273.04,492.91 273.87,492.59 274.7,493.4 275.52,492.84 276.35,493.5 277.17,493.21 278,493.5 278.81,493.23 279.62,492.94 280.43,492.84 281.23,492.76 282.04,493.53 282.85,492.69 283.66,493.16 284.47,492.6 285.28,492.78 286.09,493 286.89,492.68 287.7,493.13 288.51,492.54 289.32,493.32 290.13,493.34 290.94,493.57 291.74,492.53 292.55,493.93 293.36,492.87 294.17,493.8 294.98,493.37 295.79,492.81 296.6,492.73 297.4,492.45 298.21,492.52 299.02,494.61 299.83,493.12 300.64,492.88 301.45,493.03 302.26,493.7 303.06,493.62 303.87,492.78 304.68,492.33 305.49,492.84 306.3,493.66 307.11,492.31 307.91,492.43 308.72,492.73 309.53,493.07 310.34,492.2 311.15,493.57 311.96,492.93 312.77,492.7 313.57,492.48 314.38,493.19 315.19,492.94 316,492.9 316.81,492.79 317.62,493.07 318.43,493.5 319.24,492.27 320.05,493.34 320.86,492.5 321.67,492.49 322.49,490.92 323.3,493.13 324.11,493.57 324.92,492.64 325.73,493.28 326.54,492.4 327.35,492.1 328.16,493.5 328.97,492.32 329.78,490.8 330.59,492.31 331.4,493.44 332.21,493.37 333.02,492.08 333.83,493.1 334.64,492.05 335.46,493.33 336.27,493.01 337.08,491.38 337.89,492.56 338.7,491.75 339.51,491.86 340.32,492.63 341.13,491.79 341.94,493.15 342.75,491.72 343.56,492.91 344.37,492.13 345.18,492.68 345.99,492.31 346.8,490.61 347.61,494.79 348.43,493.04 349.24,492.55 350.05,493.15 350.86,494.74 351.67,493.03 352.48,492.86 353.29,492.67 354.1,492.3 354.93,492.55 355.75,491.93 356.58,492.78 357.4,492.96 358.23,492.86 359.06,493.55 359.88,493.56 360.71,493.28 361.53,493.97 362.36,494.11 363.19,493.77 364.01,493.9 364.84,493.04 365.67,493.68 366.49,494.39 367.32,493.96 368.14,494.25 368.97,493.58 369.8,493.8 370.62,494.15 371.45,494.11 372.27,494.36 373.1,494.8 373.91,495.56 374.73,494.18 375.54,494.11 376.36,494.34 377.17,494.03 377.99,494.08 378.8,494.9 379.61,495.06 380.43,495.12 381.24,495.36 382.06,494.09 382.87,494.83 383.69,495.25 384.5,495.13 385.31,494.67 386.13,494.45 386.94,494.89 387.76,494.45 388.57,494.16 389.39,494.26 390.2,495.54 391.01,495.29 391.83,494.49 392.64,494.71 393.46,495.13 394.27,494.67 395.09,494.37 395.9,495.71 396.71,494.16 397.53,495.31 398.34,494.67 399.16,494 399.97,494.39 400.79,496.94 401.6,494.8 402.41,494.48 403.23,494.08 404.04,494.03 404.86,493.77 405.67,494.29 406.49,494.18 407.3,493.69 408.11,494.64 408.93,493.91 409.74,493.84 410.56,493.51 411.37,494.57 412.19,493.04 413,493.04 413.81,493.62 414.63,492.95 415.44,492.71 416.26,492.6 417.07,492.55 417.89,493.08 418.7,492.63 419.51,492.88 420.33,492.86 421.14,493.29 421.96,492.63 422.77,492.98 423.59,493.25 424.4,493.42 425.21,493.08 426.03,493.13 426.84,493.07 427.66,492.16 428.47,492.18 429.29,491.38 430.1,492 430.92,492.22 431.74,491.38 432.57,492.7 433.39,490.64 434.21,492.37 435.03,492.74 435.85,492.47 436.67,491.23 437.5,491.67 438.32,492.74 439.14,491.99 439.96,491.6 440.78,491.39 441.6,491.31 442.43,491.49 443.25,489.21 444.07,492.62 444.89,492.79 445.71,492.21 446.53,491.48 447.36,491.58 448.18,492.46 449,492 449.83,492.45 450.66,493.02 451.49,492.47 452.32,492.92 453.16,493.58 453.99,493.36 454.82,493.89 455.65,495.16 456.48,495.33 457.31,494.86 458.14,495.7 458.98,494.5 459.81,495.89 460.64,496.94 461.47,496.39 462.3,497.3 463.14,497.07 463.99,497.65 464.83,496.67 465.68,497.01 466.52,496.09 467.37,497.07 468.21,496.67 469.06,496.54 469.9,495.79 470.74,495.66 471.59,496.19 472.43,496.23 473.28,496.22 474.12,495.47 474.97,495.35 475.81,494.73 476.66,494.81 477.5,494.8 478.3,494.27 479.1,496.22 479.9,492.57 480.7,493.97 481.5,494.16 482.3,494.77 483.1,493.77 483.9,493.75 484.7,494.2 485.5,494.83 486.3,494.29 487.1,493.78 487.9,493.61 488.7,494.7 489.5,494.54 490.3,494.81 491.1,493.72 491.9,494.93 492.7,493.67 493.5,494.71 494.3,494.59 495.1,493.23 495.9,493.48 496.7,494.69 497.5,493.9 498.45,495.45 499.4,495.62 500.35,497.33 501.3,498.6 502.14,498.53 502.98,498.15 503.82,498.69 504.66,498.57 505.51,497.31 506.35,497.08 507.19,497.7 508.03,496.79 508.87,496.52 509.71,497.7 510.55,496.66 511.39,496.41 512.24,495.94 513.08,496.6 513.92,495.44 514.76,496.51 515.6,495.8 516.42,496.26 517.25,495.87 518.07,495.74 518.89,495.57 519.72,494.86 520.54,496.07 521.36,495.86 522.19,494.66 523.01,494.63 523.83,495 524.66,495.14 525.48,495.15 526.3,494.89 527.13,494.7 527.95,494.51 528.77,495.53 529.6,494.38 530.42,495.24 531.24,494.09 532.07,493.87 532.89,494.04 533.71,495.09 534.54,494.01 535.36,493.53 536.18,494.33 537.01,493.92 537.83,493.32 538.65,493.51 539.48,493.28 540.3,493.9 541.11,493.09 541.93,493.3 542.74,494.21 543.56,494.5 544.37,493.79 545.19,493.01 546,493.83 546.81,494.07 547.63,493.25 548.44,493.66 549.26,494.15 550.07,493.64 550.89,494.01 551.7,493.31 552.51,493.8 553.33,493.49 554.14,493.34 554.96,492.96 555.77,492.67 556.59,493.27 557.4,492.68 558.21,493.6 559.03,493.49 559.84,492.93 560.66,492.83 561.47,492.25 562.29,492.95 563.1,492.9 563.91,493.6 564.73,492.57 565.54,493.47 566.36,492.65 567.17,492.43 567.99,493.16 568.8,494.49 569.61,489.81 570.43,492.62 571.24,492.26 572.06,492.68 572.87,492.82 573.69,492.3 574.5,493.11 575.31,492.87 576.13,492.42 576.94,491.72 577.76,492.07 578.57,491.56 579.39,491.9 580.2,492.42 581.01,491.73 581.83,491.88 582.64,489.17 583.46,492.37 584.27,492.78 585.09,491.3 585.9,492 586.83,493.22 587.77,493.49 588.7,494.8 589.67,493.69 590.63,492.85 591.6,491.6 592.4,491.5 593.21,491.93 594.01,492.06 594.82,491.03 595.62,491.18 596.42,490.72 597.23,491.63 598.03,491.17 598.83,491.63 599.64,490.3 600.44,491.2 601.25,491.22 602.05,491.19 602.85,490.53 603.66,491.69 604.46,490.5 605.27,491.17 606.07,490.7 606.87,490.22 607.68,489.74 608.48,491.06 609.28,490.61 610.09,490.13 610.89,489.83 611.7,490.46 612.5,490.1 613.33,490.76 614.17,489.8 615,490.68 615.83,490.53 616.67,491.42 617.5,491.64 618.33,491.44 619.17,492.37 620,492 620.81,492.32 621.61,492.35 622.42,491.88 623.22,492.85 624.03,492.53 624.84,492.05 625.64,492.45 626.45,492.7 627.25,492.35 628.06,492.9 628.87,492.74 629.67,493.32 630.48,492.02 631.28,492.16 632.09,492.86 632.9,493.62 633.7,493.77 634.51,492.43 635.32,493.89 636.12,495.4 636.93,493.93 637.73,492.9 638.54,493.86 639.35,493.89 640.15,492.85 640.96,493.87 641.76,493.16 642.57,493.64 643.38,493.29 644.18,493.5 644.99,493.37 645.79,493.09 646.6,493.9 647.42,493.62 648.24,493.89 649.06,494.06 649.89,494.27 650.71,493.15 651.53,494.25 652.35,493.45 653.17,493.74 653.99,494.01 654.82,493.37 655.64,494.16 656.46,495.47 657.28,494.33 658.1,493.52 658.92,495.37 659.75,492.82 660.57,493.23 661.39,494.14 662.21,493.62 663.03,492.76 663.85,494 664.68,493.9 665.5,493.56 666.32,493.47 667.14,492.51 667.96,493.32 668.78,494.37 669.61,493.51 670.43,492.79 671.25,494.33 672.07,493.26 672.89,493.18 673.71,493.76 674.54,493.74 675.36,492.73 676.18,492.33 677,492.9 677.81,492.69 678.63,492.62 679.44,491.76 680.26,491.34 681.07,491.42 681.89,490.99 682.7,491.67 683.51,491.63 684.33,492.11 685.14,490.06 685.96,490.46 686.77,490 687.59,489.47 688.4,489.73 689.21,489.32 690.03,488.92 690.84,488.71 691.66,488.14 692.47,488.47 693.29,488.95 694.1,488.2 694.91,488.53 695.73,489.73 696.54,489.32 697.36,490.55 698.17,490.69 698.99,490.25 699.8,491 700.66,490.75 701.51,491.85 702.37,491.94 703.22,493.38 704.08,493.14 704.93,493.56 705.79,493.23 706.64,494.16 707.5,494.8 708.45,493.47 709.4,491.61 710.35,490.33 711.3,489.1 712.1,488.92 712.9,488.48 713.7,489.59 714.5,489.06 715.3,489.08 716.1,489.74 716.9,489.41 717.7,488.53 718.5,490.01 719.3,488.73 720.1,490.54 720.9,489.07 721.7,488.55 722.5,489.15 723.3,489.58 724.1,489.11 724.9,489.67 725.7,489.17 726.5,489.56 727.3,488.84 728.1,489.16 728.9,489.88 729.7,489.84 730.5,487.7 731.3,488.73 732.1,489.31 732.9,490.19 733.7,489.36 734.5,489.29 735.3,490.26 736.1,489.49 736.9,489.74 737.7,489.9 738.5,490.23 739.3,490.05 740.1,490.23 740.9,489.92 741.7,489.7 742.65,488.89 743.6,488.41 744.55,486.87 745.5,485.9 746.34,485.6 747.19,485.6 748.03,484.98 748.88,484.95 749.72,485.82 750.57,484.89 751.41,484.87 752.26,484.12 753.1,484.4 754.05,485.9 755,485.75 755.95,486.22 756.9,487.2 757.72,486.65 758.55,487.75 759.37,486.65 760.19,487.24 761.02,487.41 761.84,488.12 762.66,486.85 763.49,487.44 764.31,487.47 765.13,488.03 765.96,486.88 766.78,488.06 767.6,487.54 768.43,487.59 769.25,487.06 770.07,487.09 770.9,488.5 771.72,487.59 772.54,487.03 773.37,488.11 774.19,488.33 775.01,488.25 775.84,487.5 776.66,487.5 777.48,488.13 778.31,486.43 779.13,487.88 779.95,488.07 780.78,488.89 781.6,488.2 782.4,488.61 783.21,488.55 784.01,487.35 784.82,487.49 785.62,487.9 786.42,489.18 787.23,487.11 788.03,486.84 788.83,488.11 789.64,487.09 790.44,487.59 791.25,486.86 792.05,487.26 792.85,486.25 793.66,486.92 794.46,486.09 795.27,486.71 796.07,486.09 796.87,484.11 797.68,486.9 798.48,489 799.28,485.5 800.09,486.12 800.89,486.22 801.7,486.33 802.5,485.9 803.34,486.77 804.19,485.91 805.03,486.86 805.88,486.99 806.72,487.54 807.57,487.71 808.41,489.08 809.26,488.49 810.1,489.1 810.9,488.41 811.7,488.81 812.5,487.98 813.3,486.72 814.1,488.94 814.9,486.6 815.7,485.89 816.5,486.22 817.3,485.93 818.1,485.47 818.9,484.44 819.7,484.16 820.5,484.01 821.3,484.24 822.1,483.1 823.3,486.78 824.5,490.3 825.32,491.8 826.13,493.2 826.95,494.29 827.77,494.71 828.58,495.74 829.4,496.8 830.2,494.94 831,494.16 831.8,491.6 832.6,490.3 833.4,484.42 834.2,477.4 835.05,481.59 835.9,485.5 836.7,484.58 837.5,482.17 838.3,480.26 839.1,479 839.91,478.86 840.72,479 841.52,479.51 842.33,479.14 843.14,478.44 843.95,479.51 844.76,478.98 845.57,479.25 846.38,478.63 847.18,478.97 847.99,479.77 848.8,479.75 849.61,479.53 850.42,479.39 851.23,479.43 852.03,478.84 852.84,479.74 853.65,478.68 854.46,479.45 855.27,478.87 856.08,478.91 856.88,478.81 857.69,478.69 858.5,479 859.31,478.64 860.11,478.32 860.92,479.42 861.73,478.34 862.53,478.16 863.34,478.07 864.15,479.59 864.95,479.5 865.76,478.85 866.57,479.21 867.37,479.16 868.18,478.93 868.99,478.57 869.79,479.42 870.6,479.21 871.41,478.19 872.21,478.89 873.02,478.48 873.83,479.22 874.63,477.78 875.44,478.33 876.25,477.78 877.05,478.05 877.86,478.14 878.67,478.9 879.47,478.08 880.28,477.82 881.09,478.12 881.89,478.9 882.7,478.2 883.51,477.81 884.32,477.66 885.13,478.06 885.94,477.92 886.75,477.67 887.56,477.66 888.37,477.53 889.18,477.93 889.99,477.98 890.8,477.79 891.61,478.64 892.42,478.69 893.23,478.18 894.04,478.88 894.85,478.06 895.66,478.27 896.47,477.93 897.28,478.59 898.09,478.86 898.9,478.89 899.71,478.81 900.52,478.84 901.33,477.72 902.14,477.66 902.95,477.95 903.76,477.86 904.57,478.58 905.38,478.23 906.19,477.66 907,478.2 908.2,480.1 909.4,482.3 910.5,459.5 911.3,459.06 912.1,457.3 913.2,457.76 914.3,459 915.35,454.4 916.4,449.2 917.6,452 918.8,449.6 919.6,450.49 920.4,452.5 921.2,453.66 922,453.7 922.85,453.19 923.7,452 925.3,454.5 926.1,453.25 926.9,452.5 928.3,455.3 929.7,453.7 930.8,453.3 931.2,464.5 932.01,465.43 932.82,465.16 933.63,465.26 934.44,465.36 935.25,465.72 936.06,465.58 936.87,465.86 937.68,464.57 938.49,466.31 939.3,466.9 940.11,466.99 940.92,466.23 941.72,465.46 942.53,464.8 943.34,465.39 944.15,465.45 944.96,464.95 945.77,464.07 946.58,463.38 947.38,463.75 948.19,463.52 949,462.9 949.91,462.11 950.83,462.7 951.74,462.11 952.66,461.75 953.57,460.96 954.49,460.72 955.4,459.6 956.21,459.9 957.02,460.46 957.83,460.81 958.64,461.77 959.46,461.46 960.27,461.11 961.08,462.02 961.89,463.07 962.7,462.9 963.9,468.71 965.1,474.2 965.92,472.66 966.74,471.78 967.56,470.04 968.38,468.97 969.2,467.7 970.08,468.71 970.96,469.49 971.84,469.82 972.72,469.89 973.6,471.58 974.48,472.73 975.36,473.12 976.24,473.9 977.12,475.02 978,475" fill="none" stroke="#00f000" stroke-width="1.55" stroke-linejoin="round" stroke-linecap="round"/>
<text x="987.3" y="416.7" font-family="'Liberation Sans', Arial, sans-serif" font-size="16" fill="#ff0000" stroke="#ff0000" stroke-width="0.35">Bz_GSM</text>
<text x="987.3" y="458.2" font-family="'Liberation Sans', Arial, sans-serif" font-size="16" fill="#00f800" stroke="#00f800" stroke-width="0.35">By_GSM</text>
<text x="987.3" y="499.3" font-family="'Liberation Sans', Arial, sans-serif" font-size="16" fill="#0000ff" stroke="#0000ff" stroke-width="0.35">Bx_GSM</text>
<text x="271.4" y="541.8" text-anchor="middle" font-family="'Liberation Sans', Arial, sans-serif" font-size="16.3" stroke="#000" stroke-width="0.35">0200</text>
<text x="517.1" y="541.8" text-anchor="middle" font-family="'Liberation Sans', Arial, sans-serif" font-size="16.3" stroke="#000" stroke-width="0.35">0220</text>
<text x="762.8" y="541.8" text-anchor="middle" font-family="'Liberation Sans', Arial, sans-serif" font-size="16.3" stroke="#000" stroke-width="0.35">0240</text>
<text x="145.3" y="541.6" font-family="'Liberation Sans', Arial, sans-serif" font-size="16.3" stroke="#000" stroke-width="0.35">hhmm</text>
<text x="145.3" y="554.9" font-family="'Liberation Sans', Arial, sans-serif" font-size="16.3" letter-spacing="0.12" stroke="#000" stroke-width="0.35">2017 Mar 09</text>
<rect x="240.5" y="564" width="737.5" height="124.2" fill="none" stroke="#8a8a8a" stroke-width="1"/>
<path d="M240.5 683.03h7.5M978 683.03h-7.5M240.5 677.85h7.5M978 677.85h-7.5M240.5 672.68h7.5M978 672.68h-7.5M240.5 667.5h15M978 667.5h-15M240.5 662.33h7.5M978 662.33h-7.5M240.5 657.15h7.5M978 657.15h-7.5M240.5 651.98h7.5M978 651.98h-7.5M240.5 646.8h15M978 646.8h-15M240.5 641.62h7.5M978 641.62h-7.5M240.5 636.45h7.5M978 636.45h-7.5M240.5 631.27h7.5M978 631.27h-7.5M240.5 626.1h15M978 626.1h-15M240.5 620.92h7.5M978 620.92h-7.5M240.5 615.75h7.5M978 615.75h-7.5M240.5 610.58h7.5M978 610.58h-7.5M240.5 605.4h15M978 605.4h-15M240.5 600.23h7.5M978 600.23h-7.5M240.5 595.05h7.5M978 595.05h-7.5M240.5 589.88h7.5M978 589.88h-7.5M240.5 584.7h15M978 584.7h-15M240.5 579.52h7.5M978 579.52h-7.5M240.5 574.35h7.5M978 574.35h-7.5M240.5 569.17h7.5M978 569.17h-7.5" stroke="#8a8a8a" stroke-width="1" fill="none"/>
<path d="M302.2 564v2.5M302.2 688.2v-2.5M425.05 564v2.5M425.05 688.2v-2.5M547.9 564v2.5M547.9 688.2v-2.5M670.75 564v2.5M670.75 688.2v-2.5M793.6 564v2.5M793.6 688.2v-2.5M916.45 564v2.5M916.45 688.2v-2.5" stroke="#666" stroke-width="1" fill="none"/>
<text x="236.6" y="569" text-anchor="end" font-family="'Liberation Sans', Arial, sans-serif" font-size="16.3" dy="0.36em" stroke="#000" stroke-width="0.35">2.0</text>
<text x="236.6" y="584.7" text-anchor="end" font-family="'Liberation Sans', Arial, sans-serif" font-size="16.3" dy="0.36em" stroke="#000" stroke-width="0.35">1.8</text>
<text x="236.6" y="605.4" text-anchor="end" font-family="'Liberation Sans', Arial, sans-serif" font-size="16.3" dy="0.36em" stroke="#000" stroke-width="0.35">1.6</text>
<text x="236.6" y="626.1" text-anchor="end" font-family="'Liberation Sans', Arial, sans-serif" font-size="16.3" dy="0.36em" stroke="#000" stroke-width="0.35">1.4</text>
<text x="236.6" y="646.8" text-anchor="end" font-family="'Liberation Sans', Arial, sans-serif" font-size="16.3" dy="0.36em" stroke="#000" stroke-width="0.35">1.2</text>
<text x="236.6" y="667.5" text-anchor="end" font-family="'Liberation Sans', Arial, sans-serif" font-size="16.3" dy="0.36em" stroke="#000" stroke-width="0.35">1.0</text>
<text x="236.6" y="683.2" text-anchor="end" font-family="'Liberation Sans', Arial, sans-serif" font-size="16.3" dy="0.36em" stroke="#000" stroke-width="0.35">0.8</text>
<polyline points="277.5,591.6 289.9,589.7 302.3,618.2 314.4,642.5 326.7,584.2 338.6,584.2 351.2,612.3 363.6,614.7 375.9,617.7 388,635.3 400.4,638.4 412.8,643.9 424.6,643.9 437.2,642.7 449.1,641.5 461.7,639.6 474.1,579.5 488.3,579.5 499,580.7 510.9,582.6 524,581.4 536.3,581.4 547.7,580.4" fill="none" stroke="#111" stroke-width="1.2" stroke-linejoin="round" stroke-linecap="round"/>
<polyline points="572.7,588.8 584.6,588.8 597.2,594 609,594 621.9,660.5 634.5,659.3 646.4,653.2 658.2,660.3 670.1,661.5 683.2,661.5 695.1,660.5 707.7,660.5 720,664.1 732.4,662.1 744.7,658.1 757.1,637.4 768.9,633.4 781.3,657.1 793.7,657.1 806,658.4 818.4,658.4" fill="none" stroke="#111" stroke-width="1.2" stroke-linejoin="round" stroke-linecap="round"/>
<polyline points="855.4,642.3 867.8,631.2 879.9,606.5 891.8,615.1" fill="none" stroke="#111" stroke-width="1.2" stroke-linejoin="round" stroke-linecap="round"/>
<polyline points="917,627 929.3,627 941.7,644 953.6,644" fill="none" stroke="#111" stroke-width="1.2" stroke-linejoin="round" stroke-linecap="round"/>
<text transform="translate(919,590.5) scale(1.130,1)" font-family="'Liberation Serif', 'Times New Roman', serif" font-size="38.5" stroke="#000" stroke-width="0.35">e</text>
<rect x="240.5" y="695.6" width="737.5" height="124.1" fill="none" stroke="#8a8a8a" stroke-width="1"/>
<path d="M240.5 817.22h7.5M978 817.22h-7.5M240.5 814.74h7.5M978 814.74h-7.5M240.5 812.25h7.5M978 812.25h-7.5M240.5 809.77h7.5M978 809.77h-7.5M240.5 807.29h7.5M978 807.29h-7.5M240.5 804.81h7.5M978 804.81h-7.5M240.5 802.33h7.5M978 802.33h-7.5M240.5 799.84h7.5M978 799.84h-7.5M240.5 797.36h7.5M978 797.36h-7.5M240.5 794.88h15M978 794.88h-15M240.5 792.4h7.5M978 792.4h-7.5M240.5 789.92h7.5M978 789.92h-7.5M240.5 787.43h7.5M978 787.43h-7.5M240.5 784.95h7.5M978 784.95h-7.5M240.5 782.47h7.5M978 782.47h-7.5M240.5 779.99h7.5M978 779.99h-7.5M240.5 777.51h7.5M978 777.51h-7.5M240.5 775.02h7.5M978 775.02h-7.5M240.5 772.54h7.5M978 772.54h-7.5M240.5 770.06h15M978 770.06h-15M240.5 767.58h7.5M978 767.58h-7.5M240.5 765.1h7.5M978 765.1h-7.5M240.5 762.61h7.5M978 762.61h-7.5M240.5 760.13h7.5M978 760.13h-7.5M240.5 757.65h7.5M978 757.65h-7.5M240.5 755.17h7.5M978 755.17h-7.5M240.5 752.69h7.5M978 752.69h-7.5M240.5 750.2h7.5M978 750.2h-7.5M240.5 747.72h7.5M978 747.72h-7.5M240.5 745.24h15M978 745.24h-15M240.5 742.76h7.5M978 742.76h-7.5M240.5 740.28h7.5M978 740.28h-7.5M240.5 737.79h7.5M978 737.79h-7.5M240.5 735.31h7.5M978 735.31h-7.5M240.5 732.83h7.5M978 732.83h-7.5M240.5 730.35h7.5M978 730.35h-7.5M240.5 727.87h7.5M978 727.87h-7.5M240.5 725.38h7.5M978 725.38h-7.5M240.5 722.9h7.5M978 722.9h-7.5M240.5 720.42h15M978 720.42h-15M240.5 717.94h7.5M978 717.94h-7.5M240.5 715.46h7.5M978 715.46h-7.5M240.5 712.97h7.5M978 712.97h-7.5M240.5 710.49h7.5M978 710.49h-7.5M240.5 708.01h7.5M978 708.01h-7.5M240.5 705.53h7.5M978 705.53h-7.5M240.5 703.05h7.5M978 703.05h-7.5M240.5 700.56h7.5M978 700.56h-7.5M240.5 698.08h7.5M978 698.08h-7.5" stroke="#8a8a8a" stroke-width="1" fill="none"/>
<path d="M302.2 695.6v2.5M302.2 819.7v-2.5M425.05 695.6v2.5M425.05 819.7v-2.5M547.9 695.6v2.5M547.9 819.7v-2.5M670.75 695.6v2.5M670.75 819.7v-2.5M793.6 695.6v2.5M793.6 819.7v-2.5M916.45 695.6v2.5M916.45 819.7v-2.5" stroke="#666" stroke-width="1" fill="none"/>
<text x="236.6" y="700.6" text-anchor="end" font-family="'Liberation Sans', Arial, sans-serif" font-size="16.3" dy="0.36em" stroke="#000" stroke-width="0.35">-25</text>
<text x="236.6" y="720.42" text-anchor="end" font-family="'Liberation Sans', Arial, sans-serif" font-size="16.3" dy="0.36em" stroke="#000" stroke-width="0.35">-26</text>
<text x="236.6" y="745.24" text-anchor="end" font-family="'Liberation Sans', Arial, sans-serif" font-size="16.3" dy="0.36em" stroke="#000" stroke-width="0.35">-27</text>
<text x="236.6" y="770.06" text-anchor="end" font-family="'Liberation Sans', Arial, sans-serif" font-size="16.3" dy="0.36em" stroke="#000" stroke-width="0.35">-28</text>
<text x="236.6" y="794.88" text-anchor="end" font-family="'Liberation Sans', Arial, sans-serif" font-size="16.3" dy="0.36em" stroke="#000" stroke-width="0.35">-29</text>
<text x="236.6" y="814.7" text-anchor="end" font-family="'Liberation Sans', Arial, sans-serif" font-size="16.3" dy="0.36em" stroke="#000" stroke-width="0.35">-30</text>
<polyline points="240.77,695.6 253.06,720.42 425.05,720.42 437.33,745.24 461.9,745.24 474.19,770.06 547.9,770.06 560.18,745.24 584.75,745.24 597.04,770.06 658.46,770.06 670.75,794.88 855.03,794.88 867.31,770.06 941.02,770.06 953.31,745.24 977.88,745.24" fill="none" stroke="#111" stroke-width="1.2" stroke-linejoin="round" stroke-linecap="round"/>
<text transform="translate(921.23,733.4) scale(1.109,1)" font-family="'Liberation Serif', 'Times New Roman', serif" font-size="40" stroke="#000" stroke-width="0.35">f</text>
<rect x="240.5" y="826.8" width="737.5" height="124.4" fill="none" stroke="#8a8a8a" stroke-width="1"/>
<path d="M240.5 948.09h7.5M978 948.09h-7.5M240.5 944.98h7.5M978 944.98h-7.5M240.5 941.87h7.5M978 941.87h-7.5M240.5 938.76h7.5M978 938.76h-7.5M240.5 935.65h7.5M978 935.65h-7.5M240.5 932.54h7.5M978 932.54h-7.5M240.5 929.43h7.5M978 929.43h-7.5M240.5 926.32h7.5M978 926.32h-7.5M240.5 923.21h7.5M978 923.21h-7.5M240.5 920.1h15M978 920.1h-15M240.5 916.99h7.5M978 916.99h-7.5M240.5 913.88h7.5M978 913.88h-7.5M240.5 910.77h7.5M978 910.77h-7.5M240.5 907.66h7.5M978 907.66h-7.5M240.5 904.55h7.5M978 904.55h-7.5M240.5 901.44h7.5M978 901.44h-7.5M240.5 898.33h7.5M978 898.33h-7.5M240.5 895.22h7.5M978 895.22h-7.5M240.5 892.11h7.5M978 892.11h-7.5M240.5 889h15M978 889h-15M240.5 885.89h7.5M978 885.89h-7.5M240.5 882.78h7.5M978 882.78h-7.5M240.5 879.67h7.5M978 879.67h-7.5M240.5 876.56h7.5M978 876.56h-7.5M240.5 873.45h7.5M978 873.45h-7.5M240.5 870.34h7.5M978 870.34h-7.5M240.5 867.23h7.5M978 867.23h-7.5M240.5 864.12h7.5M978 864.12h-7.5M240.5 861.01h7.5M978 861.01h-7.5M240.5 857.9h15M978 857.9h-15M240.5 854.79h7.5M978 854.79h-7.5M240.5 851.68h7.5M978 851.68h-7.5M240.5 848.57h7.5M978 848.57h-7.5M240.5 845.46h7.5M978 845.46h-7.5M240.5 842.35h7.5M978 842.35h-7.5M240.5 839.24h7.5M978 839.24h-7.5M240.5 836.13h7.5M978 836.13h-7.5M240.5 833.02h7.5M978 833.02h-7.5M240.5 829.91h7.5M978 829.91h-7.5" stroke="#8a8a8a" stroke-width="1" fill="none"/>
<path d="M302.2 826.8v2.5M302.2 951.2v-2.5M425.05 826.8v2.5M425.05 951.2v-2.5M547.9 826.8v2.5M547.9 951.2v-2.5M670.75 826.8v2.5M670.75 951.2v-2.5M793.6 826.8v2.5M793.6 951.2v-2.5M916.45 826.8v2.5M916.45 951.2v-2.5" stroke="#666" stroke-width="1" fill="none"/>
<text x="236.6" y="831.8" text-anchor="end" font-family="'Liberation Sans', Arial, sans-serif" font-size="16.3" dy="0.36em" stroke="#000" stroke-width="0.35">400</text>
<text x="236.6" y="857.9" text-anchor="end" font-family="'Liberation Sans', Arial, sans-serif" font-size="16.3" dy="0.36em" stroke="#000" stroke-width="0.35">300</text>
<text x="236.6" y="889" text-anchor="end" font-family="'Liberation Sans', Arial, sans-serif" font-size="16.3" dy="0.36em" stroke="#000" stroke-width="0.35">200</text>
<text x="236.6" y="920.1" text-anchor="end" font-family="'Liberation Sans', Arial, sans-serif" font-size="16.3" dy="0.36em" stroke="#000" stroke-width="0.35">100</text>
<text x="236.6" y="946.2" text-anchor="end" font-family="'Liberation Sans', Arial, sans-serif" font-size="16.3" dy="0.36em" stroke="#000" stroke-width="0.35">0</text>
<polyline points="240.5,927.3 252.3,925.5 264.6,924.8 276.9,925.9 289.2,923.1 301.6,919.5 313.9,920.2 326.2,919.2 338.5,918.8 350.8,916 363.1,915 375.4,914.3 387.7,912.5 400,910.7 412.4,911.5 424.7,910 437,911.8 449.3,912.9 461.6,912.5 473.9,910.4 486.2,905.1 498.5,904.4 510.8,907.9 523.2,911.5 535.5,910.4 547.8,912.2 560.1,911.1 572.4,910.7 584.7,912.2 597,913.9 609,916.5 621.7,916.8 634.3,917.9 646.2,917.9 658.5,915.7 670.4,916.8 683.1,919 695.7,917.9 707.7,918.3 720.3,923 732.9,921.5 745.2,919.3 757.2,916.5 769.1,917.2 781.4,908.5 794,896.2 805.9,895.9 818.6,896.2 830.5,902.7 842.8,898.8 855.4,902 867.3,894.8 880,883.6 891.9,881.4 904.5,880 916.8,874.9 928.8,867.7 941.4,859.7 953.3,859.4 966,856.1 978,837.5" fill="none" stroke="#111" stroke-width="1.2" stroke-linejoin="round" stroke-linecap="round"/>
<text transform="translate(922.25,849.6) scale(1.098,1)" font-family="'Liberation Serif', 'Times New Roman', serif" font-size="37.0" stroke="#000" stroke-width="0.35">g</text>
<text x="302.2" y="971.8" text-anchor="middle" font-family="'Liberation Sans', Arial, sans-serif" font-size="16.3" stroke="#000" stroke-width="0.35">0300</text>
<text x="547.9" y="971.8" text-anchor="middle" font-family="'Liberation Sans', Arial, sans-serif" font-size="16.3" stroke="#000" stroke-width="0.35">0320</text>
<text x="793.6" y="971.8" text-anchor="middle" font-family="'Liberation Sans', Arial, sans-serif" font-size="16.3" stroke="#000" stroke-width="0.35">0340</text>
<text x="145.3" y="971.8" font-family="'Liberation Sans', Arial, sans-serif" font-size="16.3" stroke="#000" stroke-width="0.35">hhmm</text>
<text x="145.3" y="985" font-family="'Liberation Sans', Arial, sans-serif" font-size="16.3" letter-spacing="0.12" stroke="#000" stroke-width="0.35">2017 Mar 09</text>
<line x1="609.4" y1="-0.73" x2="609.4" y2="951.5" stroke="#111" stroke-width="1.3" stroke-dasharray="4.6 4.53"/>
<text transform="translate(155.9,64.4) rotate(-90)" text-anchor="middle" font-family="'Liberation Serif', 'Times New Roman', serif" font-size="18" fill="#000" stroke="#000" stroke-width="0.35">solar wind</text>
<text transform="translate(172.9,67.2) rotate(-90)" text-anchor="middle" font-family="'Liberation Serif', 'Times New Roman', serif" font-size="18" fill="#000" stroke="#000" stroke-width="0.35">dynamic pressure</text>
<text transform="translate(190.2,68.4) rotate(-90)" text-anchor="middle" font-family="'Liberation Serif', 'Times New Roman', serif" font-size="18" fill="#000" stroke="#000" stroke-width="0.35">[nPa]</text>
<text transform="translate(174,211.5) rotate(-90)" text-anchor="middle" font-family="'Liberation Serif', 'Times New Roman', serif" font-size="21.5" fill="#000" stroke="#000" stroke-width="0.35">V [km/s]</text>
<text transform="translate(177.7,342.9) rotate(-90)" text-anchor="middle" font-family="'Liberation Serif', 'Times New Roman', serif" font-size="21.4" fill="#000" stroke="#000" stroke-width="0.35">N [#/cc]</text>
<text transform="translate(178,467.3) rotate(-90)" text-anchor="middle" font-family="'Liberation Serif', 'Times New Roman', serif" font-size="21" fill="#000" stroke="#000" stroke-width="0.35">B [nT]</text>
<text transform="translate(159.2,624.4) rotate(-90)" text-anchor="middle" font-family="'Liberation Serif', 'Times New Roman', serif" font-size="18" fill="#000" stroke="#000" stroke-width="0.35">solar wind</text>
<text transform="translate(176.2,627.2) rotate(-90)" text-anchor="middle" font-family="'Liberation Serif', 'Times New Roman', serif" font-size="18" fill="#000" stroke="#000" stroke-width="0.35">dynamic pressure</text>
<text transform="translate(193.6,628.1) rotate(-90)" text-anchor="middle" font-family="'Liberation Serif', 'Times New Roman', serif" font-size="18" fill="#000" stroke="#000" stroke-width="0.35">[nPa]</text>
<text transform="translate(177,766.9) rotate(-90)" text-anchor="middle" font-family="'Liberation Serif', 'Times New Roman', serif" font-size="21.2" fill="#000" stroke="#000" stroke-width="0.35">SYM-H</text>
<text transform="translate(196.2,763.5) rotate(-90)" text-anchor="middle" font-family="'Liberation Serif', 'Times New Roman', serif" font-size="21" fill="#000" stroke="#000" stroke-width="0.35">[nT]</text>
<text transform="translate(172.5,885.2) rotate(-90)" text-anchor="middle" font-family="'Liberation Serif', 'Times New Roman', serif" font-size="21" fill="#000" stroke="#000" stroke-width="0.35">AE</text>
<text transform="translate(190.8,886) rotate(-90)" text-anchor="middle" font-family="'Liberation Serif', 'Times New Roman', serif" font-size="21" fill="#000" stroke="#000" stroke-width="0.35">[nT]</text>
</svg></body></html>
